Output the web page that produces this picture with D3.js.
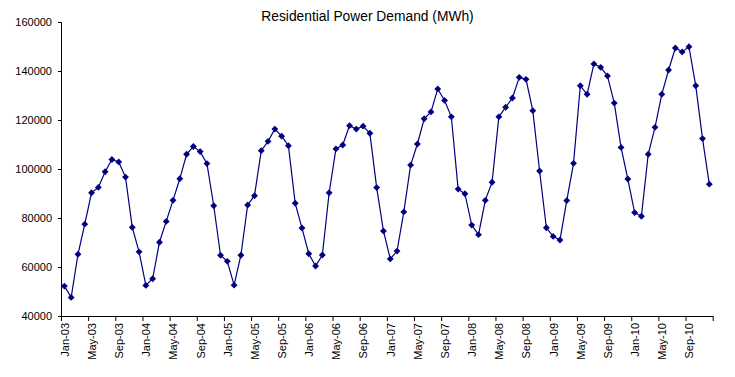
<!DOCTYPE html>
<html>
<head>
<meta charset="utf-8">
<script src="https://cdn.jsdelivr.net/npm/d3@7"></script>
<style>
  body { margin: 0; background: #fff; }
  svg { display: block; font-family: Arial, 'Liberation Sans', sans-serif; }
</style>
</head>
<body>
<div id="chart"></div>
<script>
// monthly labels Jan-03 .. Dec-10
const monthNames = ['Jan', 'Feb', 'Mar', 'Apr', 'May', 'Jun', 'Jul', 'Aug', 'Sep', 'Oct', 'Nov', 'Dec']
const years = ['03', '04', '05', '06', '07', '08', '09', '10']
const months = years.flatMap(y => monthNames.map(m => `${m}-${y}`))

// residential demand (MWh)
const demand = [
  52200, 47600, 65200, 77500, 90300, 92500, 98900, 103900, 102900, 96700, 76200, 66200,
  52500, 55200, 70100, 78600, 87200, 96000, 106000, 109200, 107100, 102200, 85000, 64800,
  62300, 52600, 64800, 85300, 89100, 107500, 111300, 116300, 113400, 109500, 86000, 75900,
  65400, 60400, 64900, 90300, 108200, 109800, 117700, 116300, 117500, 114600, 92400, 74700,
  63300, 66500, 82500, 101600, 110200, 120500, 123300, 132700, 128000, 121300, 91800, 89900,
  77100, 73200, 87200, 94600, 121300, 125200, 129000, 137400, 136600, 123800, 99200, 76000,
  72500, 71000, 87100, 102300, 134000, 130500, 142900, 141500, 138000, 126900, 108800, 95900,
  82200, 80700, 106000, 117000, 130500, 140400, 149400, 147800, 149900, 134000, 112400, 93800
]

const yTicks = [40000, 60000, 80000, 100000, 120000, 140000, 160000]
const xLabelEvery = 4

const drawChart = () => {
  const dims = { width: 735, height: 377, left: 61, right: 712.7, top: 22, bottom: 316 }

  const svg = d3.select('#chart')
    .append('svg')
    .attr('width', dims.width)
    .attr('height', dims.height)

  // band scale for category centres, linear scale for tick boundaries
  const xBand = d3.scaleBand()
    .domain(months)
    .range([dims.left, dims.right])
    .padding(0)
  const xEdge = d3.scaleLinear()
    .domain([0, months.length])
    .range([dims.left, dims.right])

  const yScale = d3.scaleLinear()
    .domain([40000, 160000])
    .range([dims.bottom, dims.top])

  // title
  svg.append('text')
    .attr('x', 367.5)
    .attr('y', 21)
    .attr('text-anchor', 'middle')
    .attr('font-size', '13.8px')
    .attr('fill', '#000')
    .text('Residential Power Demand (MWh)')

  // y axis
  const yAxisGroup = svg.append('g')
    .attr('transform', `translate(${dims.left},0)`)
    .call(d3.axisLeft(yScale).tickValues(yTicks).tickSize(3).tickPadding(6).tickFormat(d3.format('d')))
  yAxisGroup.selectAll('text').attr('font-size', '11px').attr('font-family', null).attr('fill', '#000')
  yAxisGroup.selectAll('line, path').attr('stroke', '#000')

  // x axis tick marks on category boundaries
  const edgeTicks = d3.range(0, months.length + 1, xLabelEvery)
  const xAxisGroup = svg.append('g')
    .attr('transform', `translate(0,${dims.bottom})`)
    .call(d3.axisBottom(xEdge).tickValues(edgeTicks).tickSize(5).tickSizeOuter(0).tickFormat(''))
  xAxisGroup.selectAll('line, path').attr('stroke', '#000')

  // x labels at category centres, rotated
  const labelMonths = months.filter((d, i) => i % xLabelEvery === 0)
  svg.append('g')
    .selectAll('text')
    .data(labelMonths)
    .join('text')
    .attr('transform', d => `translate(${xBand(d) + xBand.bandwidth() / 2 + 0.5},${dims.bottom + 7}) rotate(-90)`)
    .attr('text-anchor', 'end')
    .attr('dy', '0.35em')
    .attr('font-size', '11px')
    .attr('fill', '#000')
    .text(d => d)

  const points = months.map((m, i) => ({ month: m, value: demand[i] }))

  const line = d3.line()
    .x(d => xBand(d.month) + xBand.bandwidth() / 2)
    .y(d => yScale(d.value))

  svg.append('path')
    .datum(points)
    .attr('d', line)
    .attr('fill', 'none')
    .attr('stroke', '#000080')
    .attr('stroke-width', 1.2)

  // diamond markers
  const diamond = d3.symbol().type(d3.symbolDiamond2).size(30)
  svg.append('g')
    .selectAll('path')
    .data(points)
    .join('path')
    .attr('d', diamond)
    .attr('transform', d => `translate(${xBand(d.month) + xBand.bandwidth() / 2},${yScale(d.value)})`)
    .attr('fill', '#000080')
}

drawChart()
</script>
</body>
</html>
